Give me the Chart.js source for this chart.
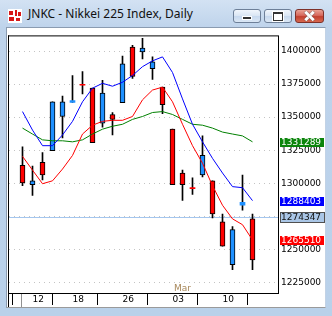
<!DOCTYPE html>
<html>
<head>
<meta charset="utf-8">
<script src="https://cdn.jsdelivr.net/npm/chart.js@4.4.0/dist/chart.umd.min.js"></script>
<style>
  body { margin: 0; width: 332px; height: 316px; overflow: hidden; background: #b9d1ea; }
  #win { position: absolute; left: 0; top: 0; width: 332px; height: 316px;
         background: linear-gradient(#d3e2f3, #bed3eb 28px, #b9d1ea); }
  #icon { position: absolute; left: 8px; top: 9px; width: 14px; height: 14px; background: #fff; }
  #icon i { position: absolute; background: #d81818; }
  #title { position: absolute; left: 28px; top: 6px; font: 12px/16px 'Noto Sans', sans-serif; color: #111; white-space: nowrap; }
  .btn { position: absolute; top: 9px; width: 26px; height: 12px; border: 1px solid #6d7f98; border-radius: 3px;
         background: linear-gradient(#f1f6fc, #d9e5f3 50%, #c6d8ee 51%, #dbe7f5); }
  #bmin i { position: absolute; left: 8px; top: 6px; width: 8px; height: 2px; background: #333; border: 1px solid #fff; }
  #bmax i { position: absolute; left: 8px; top: 2px; width: 8px; height: 6px; border: 1px solid #333; border-top-width: 2px; background: #fff; box-shadow: 0 0 0 1px #fff; }
  #bclose { left: 295px; width: 27px; border-color: #7e312a; background: linear-gradient(#e9a294, #d6695d 45%, #c2402f 55%, #d8684f); }
  #bclose i { position: absolute; left: 12px; top: 0px; width: 3px; height: 12px; background: #fff; box-shadow: 0 0 1px #333; }
  #client { position: absolute; left: 6px; top: 27px; width: 318px; height: 279px; background: #fff;
            border-left: 1px solid #8a9bb0; border-top: 1px solid #8a9bb0; border-right: 1px solid #c2d2e5; border-bottom: 1px solid #9a9a9a; }
  #client canvas { position: absolute; left: 1px; top: 0; }
</style>
</head>
<body>
<div id="win">
  <div id="icon"><i style="left:1px;top:2px;width:4px;height:4px"></i><i style="left:7px;top:1px;width:2px;height:6px"></i><i style="left:10px;top:3px;width:3px;height:4px"></i><i style="left:1px;top:8px;width:5px;height:4px"></i><i style="left:8px;top:9px;width:4px;height:3px"></i></div>
  <div id="title">JNKC - Nikkei 225 Index, Daily</div>
  <div class="btn" id="bmin" style="left:233px"><i></i></div>
  <div class="btn" id="bmax" style="left:264px"><i></i></div>
  <div class="btn" id="bclose"><i style="transform:rotate(45deg)"></i><i style="transform:rotate(-45deg)"></i></div>
  <div id="client"><canvas id="chart" width="318" height="280"></canvas></div>
</div>
<script>
// daily bars
const open  = [1313600, 1298800, 1315800, 1324700, 1350500, 1361200, 1374900, 1371900, 1345400, 1352000, 1360900, 1403000,
               1399300, 1386700, 1372700, 1340900, 1307700, 1296600, 1306200, 1301800, 1270800, 1238300, 1283300, 1273000];
const high  = [1327600, 1312900, 1323200, 1361600, 1366000, 1381500, 1384500, 1371900, 1377800, 1353500, 1396300, 1404400,
               1409600, 1395600, 1372700, 1340900, 1309900, 1304000, 1335800, 1301800, 1276700, 1267100, 1306200, 1276700];
const low   = [1298100, 1290700, 1302500, 1324700, 1334300, 1361200, 1367500, 1330600, 1342400, 1336500, 1360900, 1379300,
               1394100, 1378600, 1352700, 1298800, 1287000, 1291500, 1304700, 1273700, 1252300, 1234600, 1279600, 1234600];
const close = [1300300, 1301800, 1306200, 1361600, 1361600, 1362600, 1374100, 1330600, 1368200, 1348300, 1390400, 1380800,
               1402200, 1391900, 1359400, 1298800, 1298800, 1295900, 1321000, 1276700, 1252300, 1264900, 1285500, 1242000];

// moving averages
const maBlue  = [1354200, 1340200, 1328400, 1328400, 1336500, 1346800, 1361600, 1371900, 1375600, 1373400, 1376400, 1381500,
                 1388200, 1392600, 1395600, 1383800, 1363800, 1344600, 1331300, 1318800, 1307700, 1297400, 1296600, 1286800];
const maRed   = [1320300, 1309900, 1299600, 1301800, 1310700, 1321000, 1337200, 1343900, 1346800, 1347600, 1347600, 1350500,
                 1363100, 1370500, 1372700, 1361600, 1344600, 1328400, 1315100, 1298100, 1283300, 1273000, 1268600, 1257000];
const maGreen = [1341700, 1337200, 1332800, 1332100, 1332100, 1331300, 1332800, 1337200, 1340900, 1343100, 1344600, 1348300,
                 1350500, 1353500, 1354200, 1352000, 1348300, 1344600, 1343900, 1341700, 1338700, 1337200, 1335800, 1331300];

const tickAt   = [1, 5, 10, 15, 20];
const tickText = ['12', '18', '26', '03', '10'];
const monthAt = 15;
const monthText = 'Mar';

const priceTicks = [1225000, 1250000, 1275000, 1300000, 1325000, 1350000, 1375000, 1400000];
const bidPrice = 1274347;
const tagText = ['1331289', '1288403', '1274347', '1265510'];

const idx = open.map((v, i) => i);
const upColor = '#1e90ff';
const downColor = '#ff0000';
const barColor = ctx => close[ctx.dataIndex] >= open[ctx.dataIndex] ? upColor : downColor;

Chart.defaults.font.family = 'DejaVu Sans';
Chart.defaults.font.size = 9;
Chart.defaults.color = '#000';

const extras = {
  id: 'extras',
  beforeDatasetsDraw(chart) {
    const { ctx, chartArea: a, scales: { y } } = chart;
    const py = Math.round(y.getPixelForValue(bidPrice)) + 0.5;
    ctx.save();
    ctx.strokeStyle = '#a4c6ee';
    ctx.lineWidth = 1;
    ctx.beginPath();
    ctx.moveTo(a.left, py);
    ctx.lineTo(a.right, py);
    ctx.stroke();
    ctx.restore();
  },
  afterDraw(chart) {
    const { ctx, chartArea: a, scales: { x, y } } = chart;
    ctx.save();
    ctx.lineWidth = 1;
    ctx.strokeStyle = '#000';
    ctx.beginPath();
    ctx.moveTo(0, a.top - 0.5);
    ctx.lineTo(a.right + 1, a.top - 0.5);
    ctx.moveTo(0.5, a.top - 1);
    ctx.lineTo(0.5, 279);
    ctx.moveTo(0, a.bottom + 0.5);
    ctx.lineTo(a.left + 1, a.bottom + 0.5);
    ctx.stroke();
    ctx.strokeStyle = '#909090';
    ctx.beginPath();
    ctx.moveTo(13.5, a.bottom + 1);
    ctx.lineTo(13.5, 279);
    ctx.stroke();

    // month marker
    ctx.fillStyle = '#a8885a';
    ctx.font = '9px "DejaVu Sans"';
    ctx.textBaseline = 'alphabetic';
    ctx.fillText(monthText, x.getPixelForValue(monthAt) + 1.5, a.bottom - 2);

    // price tags on the right
    const last = arr => arr[arr.length - 1];
    const tags = [
      { v: last(maGreen), text: tagText[0], bg: '#0b850b', fg: '#fff' },
      { v: last(maBlue), text: tagText[1], bg: '#0000ff', fg: '#fff' },
      { v: bidPrice, text: tagText[2], bg: '#aac6e6', fg: '#111', line: '#505050' },
      { v: last(maRed), text: tagText[3], bg: '#ff0000', fg: '#fff' }
    ];
    tags.forEach(t => {
      const py = Math.round(y.getPixelForValue(t.v));
      const bx = y.left + 2;
      ctx.fillStyle = t.bg;
      ctx.fillRect(bx, py - 4, 44, 9);
      if (t.line) {
        ctx.strokeStyle = t.line;
        ctx.strokeRect(bx + 0.5, py - 4.5, 44, 10);
      }
      ctx.fillStyle = t.fg;
      ctx.textBaseline = 'middle';
      ctx.fillText(t.text, bx + 1, py + 0.5);
    });
    ctx.restore();
  }
};

new Chart(document.getElementById('chart'), {
  type: 'bar',
  data: {
    datasets: [
      { type: 'line', label: 'MA blue', data: idx.map(i => ({ x: i, y: maBlue[i] })), borderColor: '#0000ff',
        borderWidth: 1, pointRadius: 0, tension: 0, order: 0 },
      { type: 'line', label: 'MA red', data: idx.map(i => ({ x: i, y: maRed[i] })), borderColor: '#ff0000',
        borderWidth: 1, pointRadius: 0, tension: 0, order: 0 },
      { type: 'line', label: 'MA green', data: idx.map(i => ({ x: i, y: maGreen[i] })), borderColor: '#008000',
        borderWidth: 1, pointRadius: 0, tension: 0, order: 0 },
      { label: 'body', data: idx.map(i => ({ x: i, y: [open[i], close[i]] })), backgroundColor: barColor,
        borderColor: '#000', borderWidth: ctx => Math.abs(close[ctx.dataIndex] - open[ctx.dataIndex]) < 2500 ? 0 : 1,
        borderSkipped: false, barThickness: 5, grouped: false, order: 1 },
      { label: 'wick', data: idx.map(i => ({ x: i, y: [low[i], high[i]] })), backgroundColor: '#000',
        borderWidth: 0, barThickness: 1, grouped: false, order: 2 }
    ]
  },
  options: {
    responsive: false,
    animation: false,
    devicePixelRatio: 1,
    layout: { padding: { left: 1, top: 2, right: 0, bottom: 0 } },
    plugins: { legend: { display: false }, tooltip: { enabled: false } },
    scales: {
      x: {
        type: 'linear', min: -1.35, max: 25.55, offset: false,
        afterBuildTicks: axis => { axis.ticks = tickAt.map(v => ({ value: v })); },
        afterFit: axis => { axis.height = 15; },
        ticks: { autoSkip: false, maxRotation: 0, align: 'start', padding: -11,
                 callback: v => tickText[tickAt.indexOf(v)] },
        grid: { drawOnChartArea: false, tickLength: 12, tickColor: '#000', tickWidth: 1 },
        border: { color: '#000', width: 1 }
      },
      y: {
        type: 'linear', position: 'right', min: 1216900, max: 1411100,
        afterBuildTicks: axis => { axis.ticks = priceTicks.map(v => ({ value: v })); },
        afterFit: axis => { axis.width = 48; },
        ticks: { padding: 3,
                 callback: v => tagText.some(t => Math.abs(Number(t) - v) < 4000) ? '' : String(v) },
        grid: { color: '#c4c4c4', drawTicks: false },
        border: { color: '#000', width: 1, dash: [1, 4] }
      }
    }
  },
  plugins: [extras]
});
</script>
</body>
</html>
